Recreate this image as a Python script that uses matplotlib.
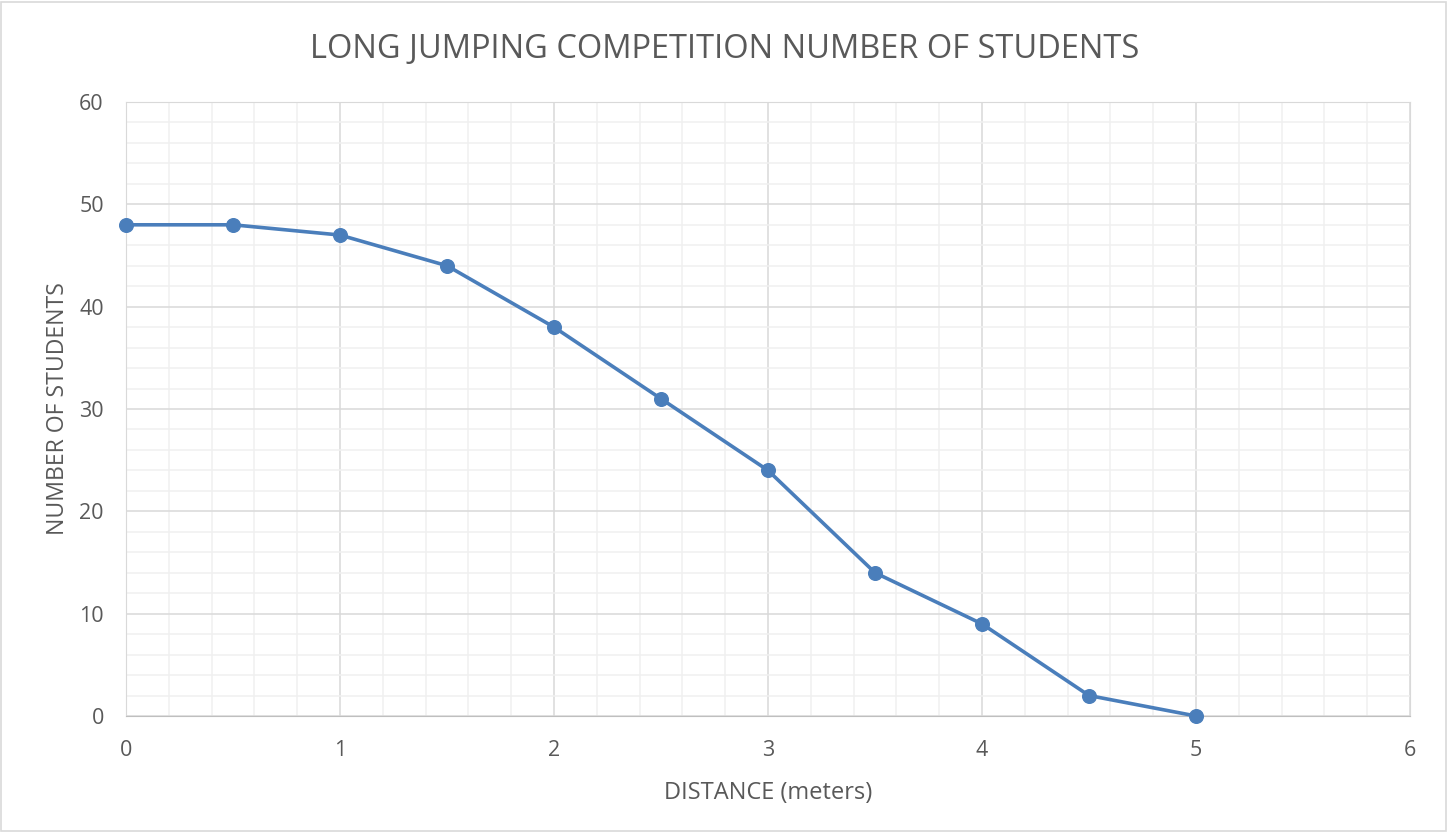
import matplotlib
matplotlib.use("Agg")
import matplotlib.pyplot as plt
from matplotlib.ticker import MultipleLocator
from matplotlib.patches import Rectangle

# data
distance = [0, 0.5, 1, 1.5, 2, 2.5, 3, 3.5, 4, 4.5, 5]
students = [48, 48, 47, 44, 38, 31, 24, 14, 9, 2, 0]

plt.rcParams['font.family'] = ['Open Sans', 'DejaVu Sans']
txt = '#595959'

fig = plt.figure(figsize=(14.49, 8.33), dpi=100)
ax = fig.add_axes([126 / 1449, 1 - 716 / 833, (1410 - 126) / 1449, (716 - 102) / 833])

ax.plot(distance, students, color='#4a7ebb', lw=2.6, marker='o', ms=9.8,
        zorder=3, clip_on=False)

ax.set_xlim(0, 6)
ax.set_ylim(0, 60)
ax.xaxis.set_major_locator(MultipleLocator(1))
ax.xaxis.set_minor_locator(MultipleLocator(0.2))
ax.yaxis.set_major_locator(MultipleLocator(10))
ax.yaxis.set_minor_locator(MultipleLocator(2))
ax.grid(which='major', color='#d9d9d9', lw=1.1)
ax.grid(which='minor', color='#f0f0f0', lw=1.1)
ax.set_axisbelow(True)

for s in ax.spines.values():
    s.set_color('#d9d9d9')
ax.spines['bottom'].set_color('#bfbfbf')

ax.tick_params(which='both', length=0, colors=txt, labelsize=15.5)
ax.tick_params(axis='x', pad=17)
ax.tick_params(axis='y', pad=16)

fig.suptitle('LONG JUMPING COMPETITION NUMBER OF STUDENTS', fontsize=23.5,
             color=txt, x=0.5, y=1 - 50 / 833, va='center')
ax.set_xlabel('DISTANCE (meters)', fontsize=17, color=txt, va='center')
ax.set_ylabel('NUMBER OF STUDENTS', fontsize=16.6, color=txt, va='center')
ax.xaxis.set_label_coords(0.5, (716 - 793) / 614)
ax.yaxis.set_label_coords((58 - 126) / 1284, 0.5)

fig.patches.append(Rectangle((0.001, 0.002), 0.997, 0.996, transform=fig.transFigure,
                             fill=False, edgecolor='#d9d9d9', lw=1.2))

fig.savefig('out.png', dpi=100)
